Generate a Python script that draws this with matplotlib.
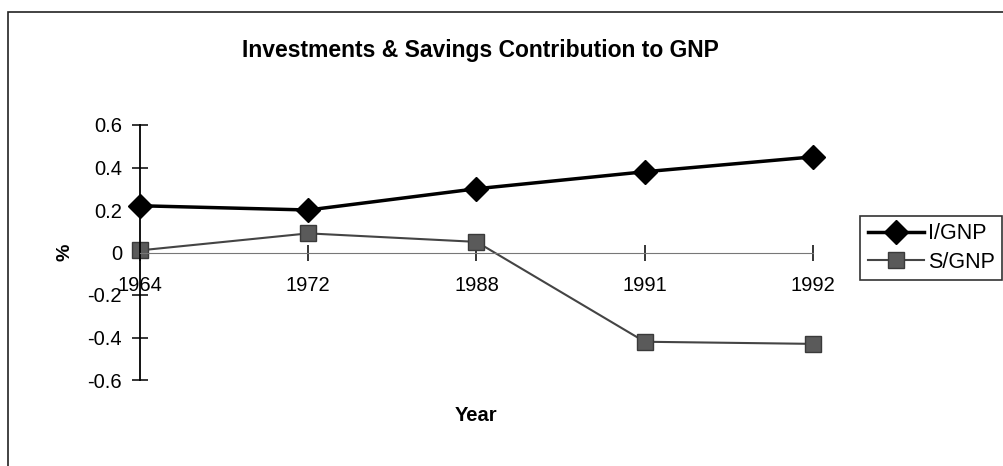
import numpy as np
import matplotlib.pyplot as plt
from matplotlib.patches import Rectangle

plt.rcParams['font.family'] = ['Liberation Sans', 'DejaVu Sans']

years = ['1964', '1972', '1988', '1991', '1992']
i_gnp = [0.22, 0.20, 0.30, 0.38, 0.45]
s_gnp = [0.01, 0.09, 0.05, -0.42, -0.43]
yticks = [-0.6, -0.4, -0.2, 0, 0.2, 0.4, 0.6]

W, H = 1004, 466
fig = plt.figure(figsize=(W / 100, H / 100), dpi=100)

# outer chart border (cropped on the right and bottom like the scan)
fig.patches.append(Rectangle((8 / W, -0.1), 1.2, 1 - 12 / H + 0.1,
                             transform=fig.transFigure, fill=False,
                             edgecolor='#222222', linewidth=1.2))

ax = fig.add_axes([140 / W, (H - 380) / H, (813 - 140) / W, (380 - 125) / H])
x = np.arange(len(years))

for s in ['top', 'right']:
    ax.spines[s].set_visible(False)
ax.spines['bottom'].set_position(('data', 0))
ax.spines['bottom'].set_color('#777777')
ax.spines['left'].set_linewidth(1.3)

ax.plot(x, i_gnp, color='black', linewidth=2.5, marker='D', markersize=12,
        markerfacecolor='black', markeredgecolor='black', label='I/GNP', clip_on=False)
ax.plot(x, s_gnp, color='#444444', linewidth=1.5, marker='s', markersize=11,
        markerfacecolor='#5a5a5a', markeredgecolor='#3a3a3a', label='S/GNP', clip_on=False)

ax.set_xlim(0, len(years) - 1)
ax.set_ylim(-0.6, 0.6)
ax.set_yticks(yticks)
ax.set_yticklabels(['-0.6', '-0.4', '-0.2', '0', '0.2', '0.4', '0.6'])
ax.set_xticks(x)
ax.set_xticklabels(years)
ax.tick_params(axis='y', direction='inout', length=12, width=1.1, pad=7, labelsize=14.5)
ax.tick_params(axis='x', direction='inout', length=12, width=1.1, pad=11, labelsize=14.5)

ax.set_ylabel('%', fontsize=14, fontweight='bold', labelpad=10)
ax.text(0.5, -0.14, 'Year', transform=ax.transAxes, ha='center', va='center',
        fontsize=14.5, fontweight='bold')

fig.text(480 / W, 1 - 50 / H, 'Investments & Savings Contribution to GNP',
         ha='center', va='center', fontsize=16.5, fontweight='bold')

leg = fig.legend(loc='center left', bbox_to_anchor=(860 / W, 1 - 248 / H),
                 fontsize=15.5, frameon=True, fancybox=False, edgecolor='black',
                 handlelength=2.6, handletextpad=0.2, borderpad=0.35,
                 labelspacing=0.35, borderaxespad=0)
leg.get_frame().set_linewidth(1.2)

fig.savefig('out.png', dpi=100)
